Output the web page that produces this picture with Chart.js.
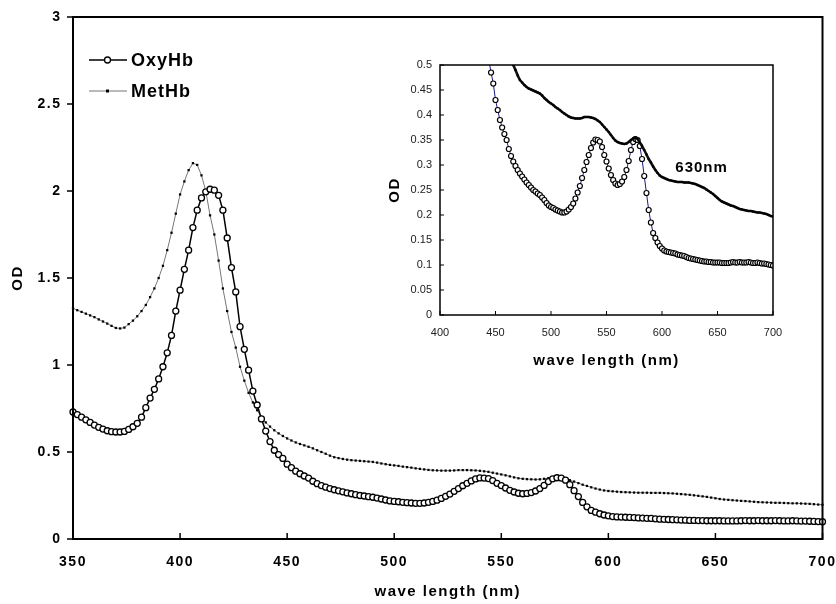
<!DOCTYPE html>
<html>
<head>
<meta charset="utf-8">
<script src="https://cdn.jsdelivr.net/npm/chart.js@4.4.1/dist/chart.umd.min.js"></script>
<style>
  body { margin: 0; background: #fff; }
  #wrap { position: relative; width: 836px; height: 604px; }
  #wrap canvas { position: absolute; left: 0; top: 0; }
</style>
</head>
<body>
<div id="wrap">
  <canvas id="main" width="836" height="604"></canvas>
  <canvas id="inset" width="836" height="604"></canvas>
</div>
<script>
// wavelength grid (nm), 2 nm steps
const waveLength = Array.from({ length: 176 }, (_, i) => 350 + 2 * i);

// OD values, 350..700 nm
const oxyHb = [
  0.73, 0.715, 0.70, 0.685, 0.67, 0.655, 0.642, 0.632, 0.622, 0.617,
  0.615, 0.615, 0.618, 0.63, 0.645, 0.665, 0.70, 0.755, 0.81, 0.86,
  0.92, 0.99, 1.07, 1.17, 1.31, 1.43, 1.55, 1.66, 1.79, 1.89,
  1.96, 1.995, 2.01, 2.005, 1.975, 1.89, 1.73, 1.56, 1.42, 1.22,
  1.09, 0.97, 0.85, 0.77, 0.69, 0.62, 0.56, 0.51, 0.485, 0.463,
  0.43, 0.41, 0.39, 0.375, 0.362, 0.35, 0.332, 0.318, 0.307, 0.298,
  0.29, 0.283, 0.277, 0.271, 0.265, 0.26, 0.255, 0.25, 0.247, 0.243,
  0.24, 0.235, 0.23, 0.224, 0.219, 0.216, 0.214, 0.211, 0.209, 0.207,
  0.205, 0.205, 0.207, 0.211, 0.216, 0.223, 0.233, 0.245, 0.258, 0.274,
  0.29, 0.306, 0.32, 0.334, 0.345, 0.351, 0.35, 0.347, 0.336, 0.32,
  0.307, 0.293, 0.28, 0.27, 0.263, 0.26, 0.262, 0.267, 0.276, 0.29,
  0.308, 0.33, 0.346, 0.352, 0.35, 0.338, 0.312, 0.278, 0.244, 0.21,
  0.185, 0.164, 0.154, 0.145, 0.138, 0.133, 0.129, 0.127, 0.126, 0.125,
  0.124, 0.123, 0.121, 0.12, 0.119, 0.118, 0.116, 0.114, 0.113, 0.112,
  0.111, 0.11, 0.109, 0.108, 0.107, 0.107, 0.106, 0.106, 0.105, 0.105,
  0.105, 0.105, 0.104, 0.104, 0.104, 0.104, 0.105, 0.106, 0.105, 0.105,
  0.106, 0.105, 0.105, 0.105, 0.106, 0.105, 0.104, 0.104, 0.105, 0.104,
  0.103, 0.103, 0.102, 0.101, 0.1, 0.099
];

const metHb = [
  1.326, 1.315, 1.305, 1.295, 1.285, 1.275, 1.262, 1.25, 1.238, 1.225,
  1.213, 1.21, 1.215, 1.235, 1.255, 1.28, 1.31, 1.345, 1.39, 1.44,
  1.50, 1.57, 1.66, 1.76, 1.87, 1.98, 2.055, 2.12, 2.16, 2.15,
  2.09, 2.0, 1.86, 1.75, 1.60, 1.44, 1.31, 1.19, 1.10, 0.99,
  0.91, 0.84, 0.785, 0.74, 0.70, 0.67, 0.646, 0.625, 0.607, 0.592,
  0.578, 0.566, 0.555, 0.546, 0.538, 0.53, 0.521, 0.51, 0.50, 0.49,
  0.479, 0.47, 0.465, 0.46, 0.456, 0.453, 0.451, 0.449, 0.447, 0.445,
  0.443, 0.439, 0.434, 0.43, 0.426, 0.423, 0.42, 0.416, 0.413, 0.41,
  0.406, 0.403, 0.40, 0.397, 0.395, 0.394, 0.393, 0.393, 0.393, 0.394,
  0.396, 0.396, 0.396, 0.395, 0.394, 0.392, 0.389, 0.386, 0.381, 0.376,
  0.371, 0.366, 0.36, 0.354, 0.349, 0.346, 0.344, 0.343, 0.342, 0.343,
  0.346, 0.35, 0.353, 0.355, 0.352, 0.345, 0.338, 0.33, 0.321, 0.312,
  0.305, 0.297, 0.29, 0.284, 0.279, 0.276, 0.274, 0.272, 0.27, 0.269,
  0.268, 0.267, 0.266, 0.266, 0.266, 0.265, 0.265, 0.265, 0.264, 0.263,
  0.262, 0.26, 0.258, 0.256, 0.254, 0.251, 0.248, 0.245, 0.242, 0.238,
  0.234, 0.23, 0.227, 0.225, 0.223, 0.221, 0.219, 0.218, 0.216, 0.214,
  0.212, 0.211, 0.21, 0.209, 0.208, 0.208, 0.207, 0.206, 0.205, 0.205,
  0.204, 0.203, 0.202, 0.2, 0.198, 0.197
];

// tick labels
const mainXTicks = [350, 400, 450, 500, 550, 600, 650, 700];
const mainYTicks = [0, 0.5, 1, 1.5, 2, 2.5, 3];
const insetXTicks = [400, 450, 500, 550, 600, 650, 700];
const insetYTicks = [0, 0.05, 0.1, 0.15, 0.2, 0.25, 0.3, 0.35, 0.4, 0.45, 0.5];

const seriesNames = ['OxyHb', 'MetHb'];
const xTitle = 'wave length (nm)';
const yTitle = 'OD';
const peakNote = '630nm';

const FONT = '"Liberation Sans", Arial, sans-serif';

function toPoints(ys) {
  return waveLength.map((w, i) => ({ x: w, y: ys[i] }));
}
function fmt(v) {
  return String(+Number(v).toFixed(2));
}
function fixTicks(list) {
  return function (scale) { scale.ticks = list.map(v => ({ value: v })); };
}
// fixed axis box, no extra room for end labels
function fixSize(w, h) {
  return function (s) {
    if (w) s.width = w;
    if (h) s.height = h;
    s.paddingLeft = 0; s.paddingRight = 0; s.paddingTop = 0; s.paddingBottom = 0;
  };
}

// frame, tick marks and legend for the big chart
const mainDecor = {
  id: 'mainDecor',
  beforeDraw(chart) {
    chart.ctx.letterSpacing = '1.5px';
  },
  afterDraw(chart) {
    const { ctx, chartArea: a, scales: { x, y } } = chart;
    ctx.save();
    ctx.strokeStyle = '#000';
    ctx.lineWidth = 2;
    ctx.strokeRect(a.left, a.top, a.right - a.left, a.bottom - a.top);
    ctx.lineWidth = 1.5;
    ctx.beginPath();
    mainXTicks.forEach(v => {
      const px = x.getPixelForValue(v);
      ctx.moveTo(px, a.bottom); ctx.lineTo(px, a.bottom - 6);
    });
    mainYTicks.forEach(v => {
      const py = y.getPixelForValue(v);
      ctx.moveTo(a.left, py); ctx.lineTo(a.left - 6, py);
    });
    ctx.stroke();

    // legend
    const ds = chart.data.datasets;
    const rows = [60, 91];
    ds.forEach((d, i) => {
      const ly = rows[i];
      ctx.strokeStyle = d.borderColor;
      ctx.lineWidth = d.borderWidth;
      ctx.beginPath(); ctx.moveTo(89, ly); ctx.lineTo(127, ly); ctx.stroke();
      if (d.pointStyle === 'rect') {
        ctx.fillStyle = '#000';
        ctx.fillRect(106, ly - 1.5, 3, 3);
      } else {
        ctx.beginPath(); ctx.arc(107.5, ly, 3, 0, Math.PI * 2);
        ctx.fillStyle = '#fff'; ctx.fill();
        ctx.lineWidth = 1.3; ctx.strokeStyle = '#000'; ctx.stroke();
      }
      ctx.fillStyle = '#000';
      ctx.font = 'bold 18px ' + FONT;
      ctx.letterSpacing = '1px';
      ctx.textAlign = 'left';
      ctx.textBaseline = 'middle';
      ctx.fillText(d.label, 131, ly + 1);
    });
    ctx.restore();
  }
};

new Chart(document.getElementById('main'), {
  type: 'line',
  data: {
    datasets: [
      {
        label: seriesNames[0], data: toPoints(oxyHb),
        borderColor: '#000', borderWidth: 1.5, tension: 0,
        pointRadius: 3, pointBackgroundColor: '#fff', pointBorderColor: '#000', pointBorderWidth: 1.3,
        clip: false, order: 1
      },
      {
        label: seriesNames[1], data: toPoints(metHb),
        borderColor: '#777', borderWidth: 1, tension: 0,
        pointStyle: 'rect', pointRadius: 1.6, pointBackgroundColor: '#000', pointBorderWidth: 0,
        clip: false, order: 2
      }
    ]
  },
  options: {
    responsive: false,
    animation: false,
    events: [],
    layout: { autoPadding: false, padding: { left: 0, right: 13.5, top: 17, bottom: 0 } },
    plugins: { legend: { display: false }, tooltip: { enabled: false } },
    scales: {
      x: {
        type: 'linear', min: 350, max: 700,
        afterBuildTicks: fixTicks(mainXTicks),
        afterFit: fixSize(0, 65),
        grid: { display: false, drawTicks: false },
        border: { display: false },
        ticks: { padding: 15, color: '#000', maxRotation: 0, font: { family: FONT, size: 14, weight: 'bold' }, callback: fmt },
        title: { display: true, text: xTitle, color: '#000', padding: { top: 0, bottom: 3 }, font: { family: FONT, size: 15, weight: 'bold' } }
      },
      y: {
        type: 'linear', min: 0, max: 3,
        afterBuildTicks: fixTicks(mainYTicks),
        afterFit: fixSize(73, 0),
        grid: { display: false, drawTicks: false },
        border: { display: false },
        ticks: { padding: 11.5, color: '#000', font: { family: FONT, size: 14, weight: 'bold' }, callback: fmt },
        title: { display: true, text: yTitle, color: '#000', padding: { top: 9, bottom: 0 }, font: { family: FONT, size: 15, weight: 'bold' } }
      }
    }
  },
  plugins: [mainDecor]
});

// frame, inward ticks, titles and note for the inset
const insetDecor = {
  id: 'insetDecor',
  beforeDraw(chart) {
    chart.ctx.letterSpacing = '0px';
  },
  afterDraw(chart) {
    const { ctx, chartArea: a, scales: { x, y } } = chart;
    ctx.save();
    ctx.strokeStyle = '#000';
    ctx.lineWidth = 1.5;
    ctx.strokeRect(a.left, a.top, a.right - a.left, a.bottom - a.top);
    ctx.lineWidth = 1;
    ctx.beginPath();
    insetXTicks.forEach(v => {
      const px = x.getPixelForValue(v);
      ctx.moveTo(px, a.bottom); ctx.lineTo(px, a.bottom - 4);
    });
    insetYTicks.forEach(v => {
      const py = y.getPixelForValue(v);
      ctx.moveTo(a.left, py); ctx.lineTo(a.left + 4, py);
    });
    ctx.stroke();

    ctx.fillStyle = '#000';
    ctx.font = 'bold 15px ' + FONT;
    ctx.letterSpacing = '1.5px';
    ctx.textAlign = 'center';
    ctx.textBaseline = 'middle';
    ctx.fillText(xTitle, (a.left + a.right) / 2, 361);

    ctx.save();
    ctx.translate(395, (a.top + a.bottom) / 2);
    ctx.rotate(-Math.PI / 2);
    ctx.fillText(yTitle, 0, 0);
    ctx.restore();

    ctx.letterSpacing = '1px';
    ctx.textAlign = 'left';
    ctx.fillText(peakNote, x.getPixelForValue(612), y.getPixelForValue(0.294));
    ctx.restore();
  }
};

new Chart(document.getElementById('inset'), {
  type: 'line',
  data: {
    datasets: [
      {
        label: seriesNames[0], data: toPoints(oxyHb),
        borderColor: '#1a1a80', borderWidth: 1, tension: 0,
        pointRadius: 2.5, pointBackgroundColor: '#fff', pointBorderColor: '#000', pointBorderWidth: 1.2,
        clip: 0, order: 2
      },
      {
        label: seriesNames[1], data: toPoints(metHb),
        borderColor: '#111', borderWidth: 2.6, tension: 0,
        pointStyle: 'rect', pointRadius: 1.5, pointBackgroundColor: '#000', pointBorderWidth: 0,
        clip: 0, order: 1
      }
    ]
  },
  options: {
    responsive: false,
    animation: false,
    events: [],
    layout: { autoPadding: false, padding: { left: 380, right: 63, top: 65, bottom: 229 } },
    plugins: { legend: { display: false }, tooltip: { enabled: false } },
    scales: {
      x: {
        type: 'linear', min: 400, max: 700,
        afterBuildTicks: fixTicks(insetXTicks),
        afterFit: fixSize(0, 60),
        grid: { display: false, drawTicks: false },
        border: { display: false },
        ticks: { padding: 11.5, color: '#222', maxRotation: 0, font: { family: FONT, size: 11 }, callback: fmt },
        title: { display: false }
      },
      y: {
        type: 'linear', min: 0, max: 0.5,
        afterBuildTicks: fixTicks(insetYTicks),
        afterFit: fixSize(60, 0),
        grid: { display: false, drawTicks: false },
        border: { display: false },
        ticks: { padding: 8, color: '#222', font: { family: FONT, size: 11 }, callback: fmt },
        title: { display: false }
      }
    }
  },
  plugins: [insetDecor]
});
</script>
</body>
</html>
